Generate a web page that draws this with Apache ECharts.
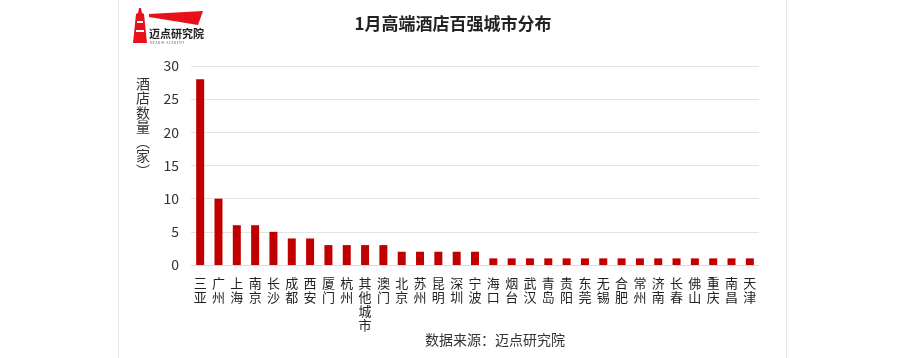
<!DOCTYPE html>
<html><head><meta charset="utf-8">
<script src="https://cdn.jsdelivr.net/npm/echarts@6/dist/echarts.min.js"></script>
<style>html,body{margin:0;padding:0;background:#fff}#c{width:900px;height:358px}</style>
</head><body><div id="c"></div>
<script>
const cities = ['三亚','广州','上海','南京','长沙','成都','西安','厦门','杭州','其他城市','澳门','北京','苏州','昆明','深圳','宁波','海口','烟台','武汉','青岛','贵阳','东莞','无锡','合肥','常州','济南','长春','佛山','重庆','南昌','天津'];
const hotelCounts = [28,10,6,6,5,4,4,3,3,3,3,2,2,2,2,2,1,1,1,1,1,1,1,1,1,1,1,1,1,1,1];
const yTicks = [0,5,10,15,20,25,30];
const titleText = '1月高端酒店百强城市分布';
const yName = ['酒','店','数','量','︵','家','︶'];
const sourceText = '数据来源：迈点研究院';
const FONT = '"Noto Sans CJK SC","Noto Sans",sans-serif';

const chart = echarts.init(document.getElementById('c'));
chart.setOption({
  backgroundColor:'#fff',
  animation:false,
  grid:{left:191,right:141,top:66,bottom:93,containLabel:false},
  xAxis:{type:'category',data:cities,
    axisLine:{lineStyle:{color:'#d9d9d9'}},axisTick:{show:false},
    axisLabel:{interval:0,margin:11,color:'#222',fontSize:13,lineHeight:14,fontFamily:FONT,
      formatter:v=>v.split('').join('\n'),verticalAlign:'top'}},
  yAxis:{type:'value',min:yTicks[0],max:yTicks[yTicks.length-1],interval:5,
    axisLine:{show:false},axisTick:{show:false},
    splitLine:{lineStyle:{color:'#e3e3e3'}},
    axisLabel:{color:'#333',fontSize:14,margin:12,fontFamily:FONT}},
  series:[{type:'bar',data:hotelCounts,barWidth:8,itemStyle:{color:'#C00000'}}],
  graphic:[
    {type:'line',shape:{x1:118.5,y1:0,x2:118.5,y2:358},style:{stroke:'#e6e6e6',lineWidth:1}},
    {type:'line',shape:{x1:786.5,y1:0,x2:786.5,y2:358},style:{stroke:'#e6e6e6',lineWidth:1}},
    {type:'text',x:453,y:15,style:{text:titleText,font:'bold 17px '+FONT,fill:'#222',align:'center'}},
    {type:'text',x:143,y:76,style:{text:yName.join('\n'),font:'14px '+FONT,lineHeight:14.5,fill:'#333',align:'center'}},
    {type:'text',x:425,y:333,style:{text:sourceText,font:'14px '+FONT,fill:'#333'}},
    // logo
    {type:'polygon',shape:{points:[[139,8],[141,8],[142,13],[144,14],[147,43],[133,43],[136,14],[138,13]]},style:{fill:'#e8101a'}},
    {type:'rect',shape:{x:137,y:21,width:6,height:2},style:{fill:'#fff'}},
    {type:'rect',shape:{x:136,y:30,width:8,height:2},style:{fill:'#fff'}},
    {type:'polygon',shape:{points:[[149,14],[203,11],[198,25],[149,17]]},style:{fill:'#e8101a'}},
    {type:'text',x:149,y:28,style:{text:'迈点研究院',font:'bold 11px '+FONT,fill:'#222'}},
    {type:'text',x:150,y:41,style:{text:'M E A D I N   A C A D E M Y',font:'3px '+FONT,fill:'#555'}}
  ]
});
</script></body></html>
